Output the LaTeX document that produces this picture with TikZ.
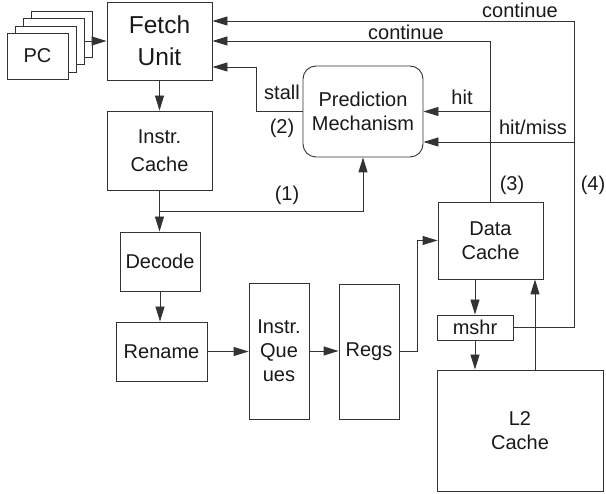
\documentclass[tikz,border=0pt]{standalone}
\usepackage{fontspec}
\setmainfont{Liberation Sans}
\usetikzlibrary{arrows.meta}

\tikzset{
  ln/.style={line width=0.9pt, draw=black!80},
  arr/.style={ln, -{Triangle[length=15pt,width=9pt]}},
  box/.style={ln, rectangle, inner sep=0pt, align=center, text=black!90,
    font=\fontsize{20}{24}\selectfont},
  lbl/.style={inner sep=0pt, text=black!90, font=\fontsize{20}{24}\selectfont},
}

\begin{document}
\begin{tikzpicture}[x=1pt, y=-1pt]
\useasboundingbox (0,0) rectangle (606,494);

% stack of program counters
\node[box, fill=white, minimum width=61pt, minimum height=46pt] (pc4) at (62,34) {};
\node[box, fill=white, minimum width=61pt, minimum height=46pt] (pc3) at (54,41.5) {};
\node[box, fill=white, minimum width=61pt, minimum height=46pt] (pc2) at (46,49) {};
\node[box, fill=white, minimum width=61pt, minimum height=46pt] (pc1) at (37.5,56) {PC};

% pipeline front end
\node[box, minimum width=105pt, minimum height=78pt,
      font=\fontsize{24.5}{32}\selectfont] (fetch) at (159.5,41) {Fetch\\Unit};
\node[box, minimum width=105pt, minimum height=79pt,
      font=\fontsize{20}{28}\selectfont] (icache) at (159.5,150.5) {Instr.\\Cache};
\node[box, minimum width=80pt, minimum height=59pt] (decode) at (160,261.5) {Decode};
\node[box, minimum width=91pt, minimum height=59pt] (rename) at (161.5,351.5) {Rename};
\node[box, minimum width=60pt, minimum height=136pt] (queues) at (279,351) {Instr.\\Que\\ues};
\node[box, minimum width=60pt, minimum height=135pt] (regs) at (369,351.5) {Regs};

% predictor and memory side
\node[box, rounded corners=13pt, minimum width=120pt, minimum height=91pt] (pred) at (363,111.5) {Prediction\\Mechanism};
\node[box, minimum width=105pt, minimum height=77pt] (dcache) at (490.5,240.5) {Data\\Cache};
\node[box, minimum width=76pt, minimum height=25pt] (mshr) at (475,327.5) {mshr};
\node[box, minimum width=166pt, minimum height=121pt] (l2) at (520,430.5) {L2\\Cache};

% main pipeline flow
\draw[arr] (pc3.east |- fetch.west) -- (fetch.west);
\draw[arr] (fetch.south) -- (fetch.south |- icache.north);
\draw[arr] (icache.south) -- (icache.south |- decode.north);
\draw[arr] (decode.south) -- (decode.south |- rename.north);
\draw[arr] (rename.east) -- (rename.east -| queues.west);
\draw[arr] (queues.east) -- (queues.east -| regs.west);
\draw[arr] (regs.east) -- ++(18,0) |- (dcache.west);

% (1) instruction cache to predictor
\coordinate (j1) at (icache.south |- 0,211);
\draw[arr] (j1) -| (pred.south);
\node[lbl] at (287,195) {(1)};

% (2) stall from predictor
\draw[arr] (pred.west) -- ++(-46,0) |- ([yshift=-26pt]fetch.east);
\node[lbl] at (282,92) {stall};
\node[lbl] at (282,128) {(2)};

% (3) data cache feedback
\draw[arr] (dcache.north) |- (fetch.east);
\draw[arr] (dcache.north |- pred.east) -- (pred.east);
\node[lbl] at (406,32) {continue};
\node[lbl] at (462,97) {hit};
\node[lbl] at (512,185) {(3)};

% (4) miss handling feedback
\coordinate (c4) at ([xshift=61pt]mshr.east);
\draw[arr] (mshr.east) -- (c4) |- ([yshift=20pt]fetch.east);
\draw[arr] (c4 |- 0,142) -- (pred.east |- 0,142);
\node[lbl] at (520,10) {continue};
\node[lbl] at (533,127) {hit/miss};
\node[lbl] at (593,185) {(4)};

% memory hierarchy
\draw[arr] (mshr.north |- dcache.south) -- (mshr.north);
\draw[arr] (mshr.south) -- (mshr.south |- l2.north);
\draw[arr] ([xshift=44.5pt]dcache.south |- l2.north) -- ([xshift=44.5pt]dcache.south);
\end{tikzpicture}
\end{document}
